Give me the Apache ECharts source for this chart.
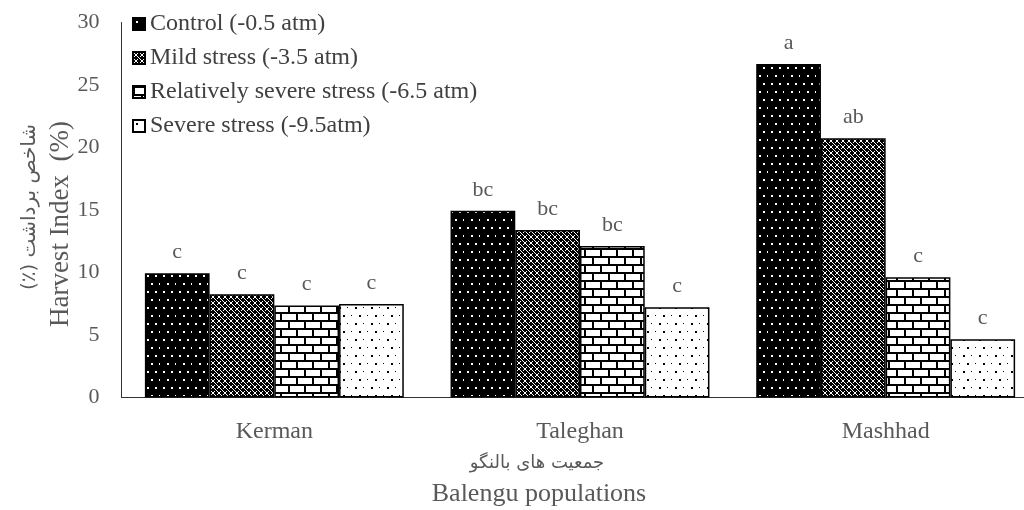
<!DOCTYPE html>
<html>
<head>
<meta charset="UTF-8">
<title>Harvest Index</title>
<script src="https://cdn.jsdelivr.net/npm/echarts@6/dist/echarts.min.js"></script>
<style>
  html, body { margin: 0; padding: 0; background: #fff; }
  #main { width: 1024px; height: 510px; }
</style>
</head>
<body>
<div id="main"></div>
<script>
// data
const populations = ['Kerman', 'Taleghan', 'Mashhad']
const seriesNames = ['Control (-0.5 atm)', 'Mild stress (-3.5 atm)', 'Relatively severe stress (-6.5 atm)', 'Severe stress (-9.5atm)']
const control = [9.94, 14.94, 26.68]
const mild = [8.26, 13.4, 20.74]
const relSevere = [7.36, 12.12, 9.62]
const severe = [7.48, 7.22, 4.66]
const letters = [
  ['c', 'bc', 'a'],
  ['c', 'bc', 'ab'],
  ['c', 'bc', 'c'],
  ['c', 'c', 'c']
]
const yTicks = { min: 0, max: 30, interval: 5 }

const serif = "'Liberation Serif', 'Times New Roman', serif"
const persian = "'DejaVu Sans', 'Noto Sans', sans-serif"
const grey = '#595959'

function tile(w, h, paint) {
  let c = document.createElement('canvas')
  c.width = w
  c.height = h
  let ctx = c.getContext('2d')
  paint(ctx)
  return { image: c, repeat: 'repeat' }
}

// black with white dots
let patControl = tile(16, 16, function (ctx) {
  ctx.fillStyle = '#000'
  ctx.fillRect(0, 0, 16, 16)
  ctx.fillStyle = '#fff'
  ctx.fillRect(3, 3, 2, 2)
  ctx.fillRect(11, 3, 2, 2)
  ctx.fillRect(7, 11, 2, 2)
  ctx.fillRect(15, 11, 1, 2)
})
// dense cross hatch
let patMild = tile(6, 6, function (ctx) {
  ctx.fillStyle = '#000'
  ctx.fillRect(0, 0, 6, 6)
  ctx.fillStyle = '#fff'
  ctx.fillRect(1, 1, 1, 1)
  ctx.fillRect(4, 1, 1, 1)
  ctx.fillRect(2, 2, 2, 2)
  ctx.fillRect(1, 4, 1, 1)
  ctx.fillRect(4, 4, 1, 1)
  ctx.fillRect(0, 0, 1, 1)
  ctx.fillRect(5, 5, 1, 1)
})
// bricks
let patBrick = tile(16, 16, function (ctx) {
  ctx.fillStyle = '#000'
  ctx.fillRect(0, 0, 16, 16)
  ctx.fillStyle = '#fff'
  ctx.fillRect(2, 2, 14, 6)
  ctx.fillRect(0, 10, 8, 6)
  ctx.fillRect(10, 10, 6, 6)
})
// white with black dots
let patSevere = tile(16, 16, function (ctx) {
  ctx.fillStyle = '#fff'
  ctx.fillRect(0, 0, 16, 16)
  ctx.fillStyle = '#000'
  ctx.fillRect(3, 3, 2, 2)
  ctx.fillRect(11, 3, 1, 1)
  ctx.fillRect(7, 11, 2, 2)
  ctx.fillRect(15, 11, 1, 1)
})

const fills = [patControl, patMild, patBrick, patSevere]
const values = [control, mild, relSevere, severe]

let series = []
for (let i = 0; i < seriesNames.length; i++) {
  series.push({
    name: seriesNames[i],
    type: 'bar',
    data: values[i],
    barGap: '0%',
    barCategoryGap: '15.3%',
    itemStyle: { color: fills[i], borderColor: '#000', borderWidth: 1.5 },
    label: {
      show: true,
      position: 'top',
      distance: 10,
      color: grey,
      fontFamily: serif,
      fontSize: 22,
      formatter: function (p) { return letters[i][p.dataIndex] }
    }
  })
}

let chart = echarts.init(document.getElementById('main'))
chart.setOption({
  animation: false,
  backgroundColor: '#fff',
  grid: { left: 121.5, top: 22.5, width: 917, height: 375, outerBoundsMode: 'none', containLabel: false },
  legend: {
    orient: 'vertical',
    left: 127,
    top: 7,
    icon: 'rect',
    itemWidth: 12,
    itemHeight: 12,
    itemGap: 10,
    textStyle: { fontFamily: serif, fontSize: 24, color: '#404040' },
    data: seriesNames
  },
  xAxis: {
    type: 'category',
    data: populations,
    axisLine: { lineStyle: { color: '#333', width: 1 } },
    axisTick: { show: false },
    axisLabel: { color: grey, fontFamily: serif, fontSize: 24, margin: 22 }
  },
  yAxis: {
    type: 'value',
    min: yTicks.min,
    max: yTicks.max,
    interval: yTicks.interval,
    splitLine: { show: false },
    axisLine: { show: true, lineStyle: { color: '#333', width: 1 } },
    axisTick: { show: false },
    axisLabel: { color: grey, fontFamily: serif, fontSize: 22, margin: 22 }
  },
  graphic: [
    {
      type: 'text', x: 61, y: 224, rotation: Math.PI / 2,
      style: { text: 'Harvest Index  (%)', fontFamily: serif, fontSize: 27, fill: grey, align: 'center', verticalAlign: 'middle' }
    },
    {
      type: 'text', x: 30, y: 207, rotation: Math.PI / 2,
      style: { text: '\u202Bشاخص برداشت (٪)\u202C', fontFamily: persian, fontSize: 20, fill: grey, align: 'center', verticalAlign: 'middle' }
    },
    {
      type: 'text', x: 537, y: 463,
      style: { text: 'جمعیت های بالنگو', fontFamily: persian, fontSize: 18, fill: grey, align: 'center', verticalAlign: 'middle' }
    },
    {
      type: 'text', x: 539, y: 494,
      style: { text: 'Balengu populations', fontFamily: serif, fontSize: 26, fill: grey, align: 'center', verticalAlign: 'middle' }
    }
  ],
  series: series
})
</script>
</body>
</html>
